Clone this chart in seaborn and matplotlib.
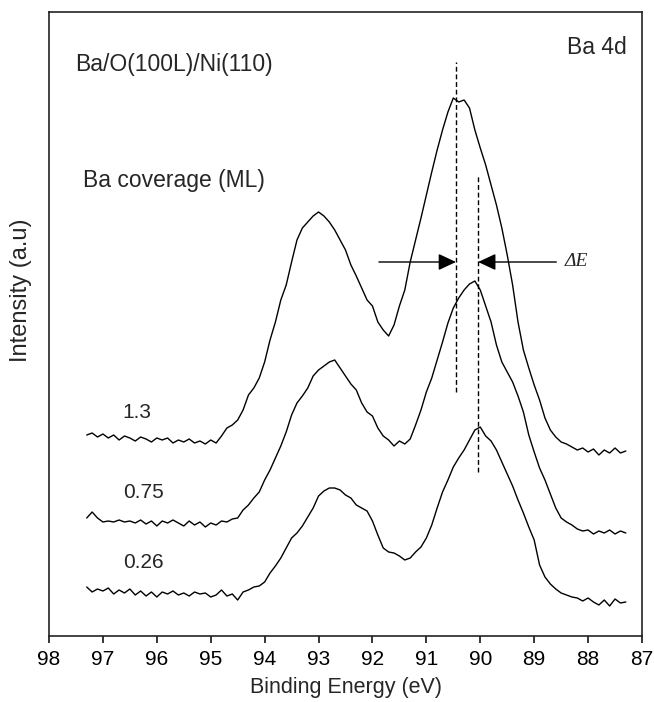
import numpy as np
import pandas as pd
import matplotlib
matplotlib.use("Agg")
import matplotlib.pyplot as plt
import seaborn as sns

# binding energy grid (eV), 0.1 eV steps, high -> low
energy = np.round(np.arange(97.3, 87.25, -0.1), 1)

# intensities (a.u.), same order as energy
ba_130 = [201, 203, 199, 202, 198, 201, 196, 200, 198, 195,
          199, 197, 194, 198, 196, 198, 193, 196, 194, 197,
          193, 195, 192, 196, 193, 200, 208, 211, 216, 226,
          241, 248, 258, 274, 296, 314, 336, 351, 374, 396,
          408, 414, 420, 424, 420, 414, 406, 396, 386, 371,
          360, 348, 336, 330, 314, 306, 300, 311, 330, 346,
          374, 396, 418, 441, 464, 486, 506, 524, 538, 534,
          536, 528, 506, 488, 471, 451, 431, 408, 381, 351,
          314, 286, 268, 251, 236, 218, 206, 199, 194, 192,
          189, 186, 188, 184, 187, 181, 186, 183, 188, 183,
          185]
ba_075 = [118, 124, 118, 114, 115, 114, 116, 114, 115, 113,
          116, 112, 115, 110, 115, 113, 116, 113, 110, 115,
          111, 114, 109, 113, 111, 115, 114, 117, 118, 126,
          131, 138, 144, 156, 166, 178, 190, 204, 221, 233,
          240, 248, 260, 266, 270, 274, 276, 268, 260, 252,
          246, 233, 224, 220, 208, 200, 196, 190, 195, 192,
          197, 211, 226, 244, 258, 276, 294, 313, 328, 338,
          346, 352, 355, 346, 330, 314, 291, 274, 264, 254,
          240, 224, 201, 184, 168, 156, 142, 128, 118, 114,
          111, 107, 105, 106, 102, 105, 103, 106, 102, 105,
          103]
ba_026 = [49, 44, 47, 45, 48, 42, 46, 43, 47, 41,
          45, 40, 44, 39, 44, 42, 45, 41, 43, 40,
          44, 42, 43, 39, 41, 46, 40, 42, 36, 44,
          46, 49, 50, 54, 63, 70, 78, 88, 98, 103,
          110, 119, 128, 140, 145, 148, 148, 146, 141, 138,
          131, 128, 125, 115, 101, 88, 84, 83, 80, 76,
          78, 84, 89, 98, 111, 128, 144, 156, 169, 178,
          186, 196, 206, 209, 200, 195, 186, 174, 162, 150,
          136, 123, 109, 96, 71, 59, 52, 47, 43, 41,
          39, 38, 35, 38, 34, 31, 36, 30, 37, 33,
          34]

coverages = ["1.3", "0.75", "0.26"]
label_pos = [(96.63, 224), (96.63, 143), (96.63, 73)]

# peak positions marked with dashed lines
peak_high = 90.45
peak_low = 90.04

frames = []
for cov, vals in zip(coverages, [ba_130, ba_075, ba_026]):
    frames.append(pd.DataFrame({"energy": energy, "intensity": vals, "coverage": cov}))
df = pd.concat(frames, ignore_index=True)

sns.set_style("ticks")
plt.rcParams["font.family"] = ["Liberation Sans", "DejaVu Sans"]

fig = plt.figure(figsize=(6.54, 7.02), dpi=100)
ax = fig.add_axes([49 / 654, 66 / 702, 593 / 654, 624 / 702])

sns.lineplot(data=df, x="energy", y="intensity", units="coverage", estimator=None,
             color="black", lw=1.0, ax=ax)

ax.set_xlim(98, 87)
ax.set_ylim(0, 624)
ax.set_xticks(range(87, 99))
ax.set_yticks([])
ax.tick_params(axis="x", direction="out", length=5, width=1.1, labelsize=15, pad=5, colors="black")
for s in ax.spines.values():
    s.set_visible(True)
    s.set_linewidth(1.2)
    s.set_color("#222222")

ax.set_xlabel("Binding Energy (eV)", fontsize=15.5, labelpad=6)
ax.set_ylabel("Intensity (a.u)", fontsize=17)
ax.yaxis.set_label_coords(-0.028, 0.554)

# dashed peak markers
ax.plot([peak_high, peak_high], [244, 574], color="black", lw=1.0, ls=(0, (3.5, 2)))
ax.plot([peak_low, peak_low], [164, 461], color="black", lw=1.0, ls=(0, (3.5, 2)))

# shift arrows
arrow = dict(arrowstyle="-|>,head_length=0.9,head_width=0.42", color="black",
             lw=1.0, shrinkA=0, shrinkB=0, mutation_scale=12)
ax.annotate("", xy=(peak_high, 374), xytext=(91.88, 374), arrowprops=arrow)
ax.annotate("", xy=(peak_low, 374), xytext=(88.59, 374), arrowprops=arrow)
ax.text(88.43, 374, "ΔE", fontsize=14, va="center", ha="left",
        family="Liberation Serif", style="italic")

ax.text(97.52, 571, "Ba/O(100L)/Ni(110)", fontsize=16.5, va="center", ha="left")
ax.text(97.37, 456, "Ba coverage (ML)", fontsize=16.5, va="center", ha="left")
ax.text(87.29, 588, "Ba 4d", fontsize=16.5, va="center", ha="right")
for cov, (x, y) in zip(coverages, label_pos):
    ax.text(x, y, cov, fontsize=15, va="center", ha="left")

fig.savefig("out.png", dpi=100)
